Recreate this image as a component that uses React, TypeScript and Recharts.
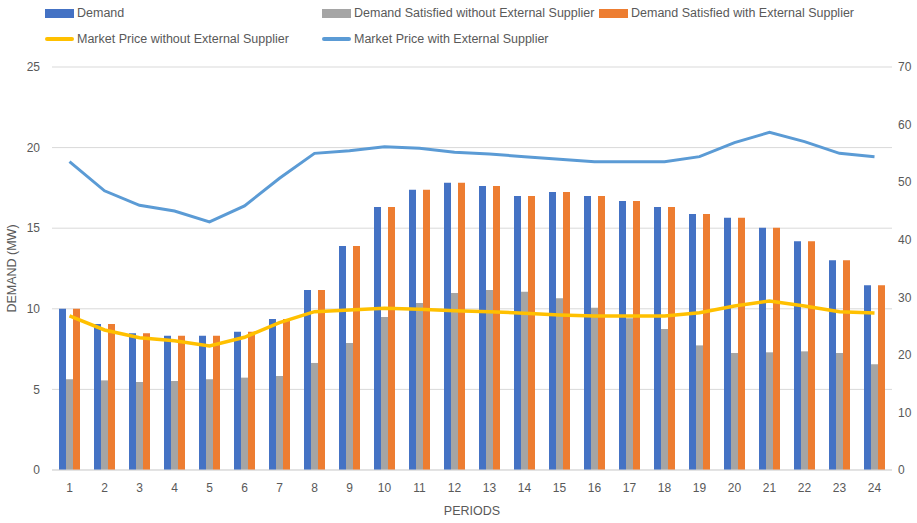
import {
  ComposedChart,
  Bar,
  Line,
  XAxis,
  YAxis,
  CartesianGrid,
  Legend,
} from "recharts";

const periods = ["1", "2", "3", "4", "5", "6", "7", "8", "9", "10", "11", "12", "13", "14", "15", "16", "17", "18", "19", "20", "21", "22", "23", "24"];

const demand = [10.0, 9.06, 8.48, 8.33, 8.33, 8.58, 9.37, 11.17, 13.9, 16.31, 17.39, 17.82, 17.62, 17.0, 17.25, 17.0, 16.69, 16.31, 15.88, 15.65, 15.03, 14.19, 13.01, 11.46];
const satisfiedWithout = [5.63, 5.56, 5.46, 5.52, 5.63, 5.73, 5.83, 6.64, 7.88, 9.49, 10.36, 10.98, 11.17, 11.06, 10.65, 10.07, 9.41, 8.75, 7.73, 7.26, 7.3, 7.36, 7.26, 6.56];
const satisfiedWith = [10.0, 9.06, 8.48, 8.33, 8.33, 8.58, 9.37, 11.17, 13.9, 16.31, 17.39, 17.82, 17.62, 17.0, 17.25, 17.0, 16.69, 16.31, 15.88, 15.65, 15.03, 14.19, 13.01, 11.46];
const priceWithout = [26.75, 24.32, 22.98, 22.46, 21.54, 23.05, 25.59, 27.5, 27.79, 28.08, 27.91, 27.68, 27.5, 27.22, 26.92, 26.75, 26.75, 26.75, 27.33, 28.49, 29.36, 28.49, 27.5, 27.27];
const priceWith = [53.55, 48.5, 45.97, 44.99, 43.08, 45.86, 50.67, 55.0, 55.47, 56.16, 55.88, 55.18, 54.89, 54.43, 53.97, 53.55, 53.55, 53.55, 54.43, 56.86, 58.65, 57.03, 55.0, 54.43];

const leftTicks = [0, 5, 10, 15, 20, 25];
const rightTicks = [0, 10, 20, 30, 40, 50, 60, 70];

const data = periods.map((p, i) => ({
  period: p,
  demand: demand[i],
  without: satisfiedWithout[i],
  with: satisfiedWith[i],
  priceWithout: priceWithout[i],
  priceWith: priceWith[i],
}));

const FONT = "'Liberation Sans', Arial, sans-serif";
const TEXT = "#595959";

const legendItems = [
  { label: "Demand", color: "#4472C4", kind: "bar" },
  { label: "Demand Satisfied without External Supplier", color: "#A5A5A5", kind: "bar" },
  { label: "Demand Satisfied with External Supplier", color: "#ED7D31", kind: "bar" },
  { label: "Market Price without External Supplier", color: "#FFC000", kind: "line" },
  { label: "Market Price with External Supplier", color: "#5B9BD5", kind: "line" },
];

const ChartLegend = () => (
  <div
    style={{
      display: "grid",
      gridTemplateColumns: "277px 277px 277px",
      paddingLeft: 45,
      fontFamily: FONT,
      fontSize: 12.5,
      color: TEXT,
    }}
  >
    {legendItems.map((it) => (
      <div key={it.label} style={{ display: "flex", alignItems: "center", height: 26, whiteSpace: "nowrap" }}>
        <span
          style={{
            display: "inline-block",
            width: 29,
            height: it.kind === "bar" ? 9 : 4,
            background: it.color,
            marginRight: 3,
            borderRadius: it.kind === "line" ? 2 : 0,
          }}
        />
        {it.label}
      </div>
    ))}
  </div>
);

export default function App() {
  return (
    <div style={{ position: "absolute", left: 0, top: 0, width: 917, height: 523 }}>
      <ComposedChart
        width={917}
        height={523}
        data={data}
        margin={{ top: 10, right: 0, bottom: 8, left: 0 }}
        barGap={0}
      >
        <Legend
          verticalAlign="top"
          align="left"
          height={57}
          wrapperStyle={{ top: 0, left: 0 }}
          content={() => <ChartLegend />}
        />
        <CartesianGrid vertical={false} stroke="#D9D9D9" yAxisId="left" />
        <XAxis
          dataKey="period"
          height={45}
          tickLine={false}
          axisLine={{ stroke: "#D9D9D9" }}
          tickMargin={7}
          tick={{ fill: TEXT, fontSize: 12, fontFamily: FONT }}
          interval={0}
          label={{ value: "PERIODS", position: "insideBottom", offset: 0, fill: TEXT, fontSize: 12.5, fontFamily: FONT }}
        />
        <YAxis
          yAxisId="left"
          width={52}
          domain={[0, 25]}
          ticks={leftTicks}
          tickLine={false}
          axisLine={false}
          tickMargin={6}
          tick={{ fill: TEXT, fontSize: 12, fontFamily: FONT }}
          label={{ value: "DEMAND (MW)", angle: -90, position: "insideLeft", offset: 12, fill: TEXT, fontSize: 12.5, fontFamily: FONT, style: { textAnchor: "middle" } }}
        />
        <YAxis
          yAxisId="right"
          orientation="right"
          width={25}
          domain={[0, 70]}
          ticks={rightTicks}
          tickLine={false}
          axisLine={false}
          tickSize={4}
          tickMargin={2}
          tick={{ fill: TEXT, fontSize: 12, fontFamily: FONT }}
        />
        <Bar yAxisId="left" dataKey="demand" name="Demand" fill="#4472C4" barSize={7} isAnimationActive={false} />
        <Bar yAxisId="left" dataKey="without" name="Demand Satisfied without External Supplier" fill="#A5A5A5" barSize={7} isAnimationActive={false} />
        <Bar yAxisId="left" dataKey="with" name="Demand Satisfied with External Supplier" fill="#ED7D31" barSize={7} isAnimationActive={false} />
        <Line yAxisId="right" type="linear" dataKey="priceWithout" name="Market Price without External Supplier" stroke="#FFC000" strokeWidth={3.5} dot={false} isAnimationActive={false} />
        <Line yAxisId="right" type="linear" dataKey="priceWith" name="Market Price with External Supplier" stroke="#5B9BD5" strokeWidth={3} dot={false} isAnimationActive={false} />
      </ComposedChart>
    </div>
  );
}
